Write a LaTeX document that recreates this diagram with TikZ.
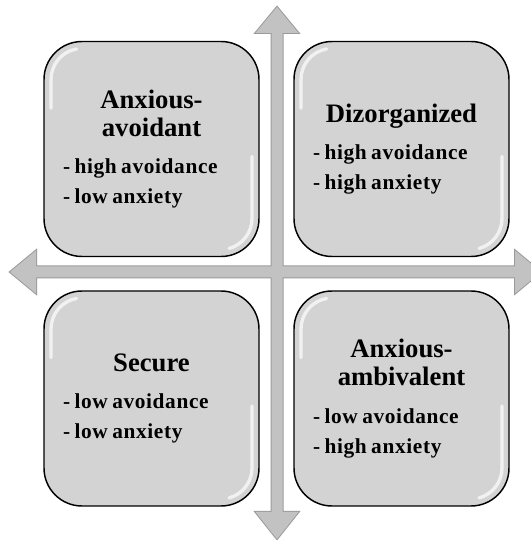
\documentclass[tikz,border=0pt]{standalone}
\usepackage{fontspec}
\setmainfont{Liberation Serif}
\newfontfamily\spacedfont[LetterSpace=3]{Liberation Serif}
\definecolor{axisfill}{HTML}{C2C2C2}
\definecolor{axisedge}{HTML}{9A9A9A}
\definecolor{quadfill}{HTML}{D3D3D3}
% title of a quadrant: centred, larger; body lines: left, spaced
\newcommand\quadtitle[1]{{\centering\fontsize{20}{21}\selectfont#1\par}\vspace{5.5pt}}
\newcommand\quadbody[1]{{\spacedfont\bfseries\fontsize{16}{22.5}\selectfont#1\par}}
\begin{document}
\begin{tikzpicture}[x=0.75pt,y=0.75pt,
  axisout/.style={draw=axisedge, line width=1.5pt},
  axisin/.style={fill=axisfill},
  gloss/.style={draw=white, line width=2.5pt, opacity=0.7, line cap=round},
  quad/.style={draw=black, line width=1.1pt, fill=quadfill, rounded corners=28.5pt,
    minimum width=161.25pt, minimum height=161.25pt, text width=132.75pt,
    inner sep=0pt, align=left, font=\bfseries,
    path picture={
      \draw[gloss, rounded corners=0pt] ([shift={(5.25pt,-50pt)}]path picture bounding box.north west)
        -- ++(0,21.5pt) arc[start angle=180, end angle=100, radius=23.25pt];
      \draw[gloss, rounded corners=0pt] ([shift={(-5.25pt,75pt)}]path picture bounding box.south east)
        -- ++(0,-46.5pt) arc[start angle=0, end angle=-75, radius=23.25pt];
    }}]
\clip (0,0) rectangle (531,540);
% axis end points
\coordinate (ytop) at (277,533);
\coordinate (ybot) at (277,1);
\coordinate (xleft) at (10,268);
\coordinate (xright) at (541,268);
% the two double arrows: outline first, then the fill over it
\foreach \axstyle in {axisout,axisin}{
  \path[\axstyle] (ytop) -- ++(21.5,-26) -- ++(-16,0) -- ++(0,-479) -- ++(16,0) -- (ybot)
    -- ++(-21.5,27) -- ++(16,0) -- ++(0,479) -- ++(-16,0) -- cycle;
  \path[\axstyle] (xleft) -- ++(26,21.5) -- ++(0,-16) -- ++(479,0) -- ++(0,16) -- (xright)
    -- ++(-26,-21.5) -- ++(0,16) -- ++(-479,0) -- ++(0,-16) -- cycle;
}
\node[quad] (avoidant) at (151.5,391) {\quadtitle{Anxious-\\avoidant}\quadbody{- high avoidance\\- low anxiety}};
\node[quad] (disorg) at (401.5,391) {\quadtitle{Dizorganized}\quadbody{- high avoidance\\- high anxiety}};
\node[quad] (secure) at (151.5,141.5) {\quadtitle{Secure}\quadbody{- low avoidance\\- low anxiety}};
\node[quad] (ambivalent) at (401.5,141.5) {\quadtitle{Anxious-\\ambivalent}\quadbody{- low avoidance\\- high anxiety}};
\end{tikzpicture}
\end{document}
